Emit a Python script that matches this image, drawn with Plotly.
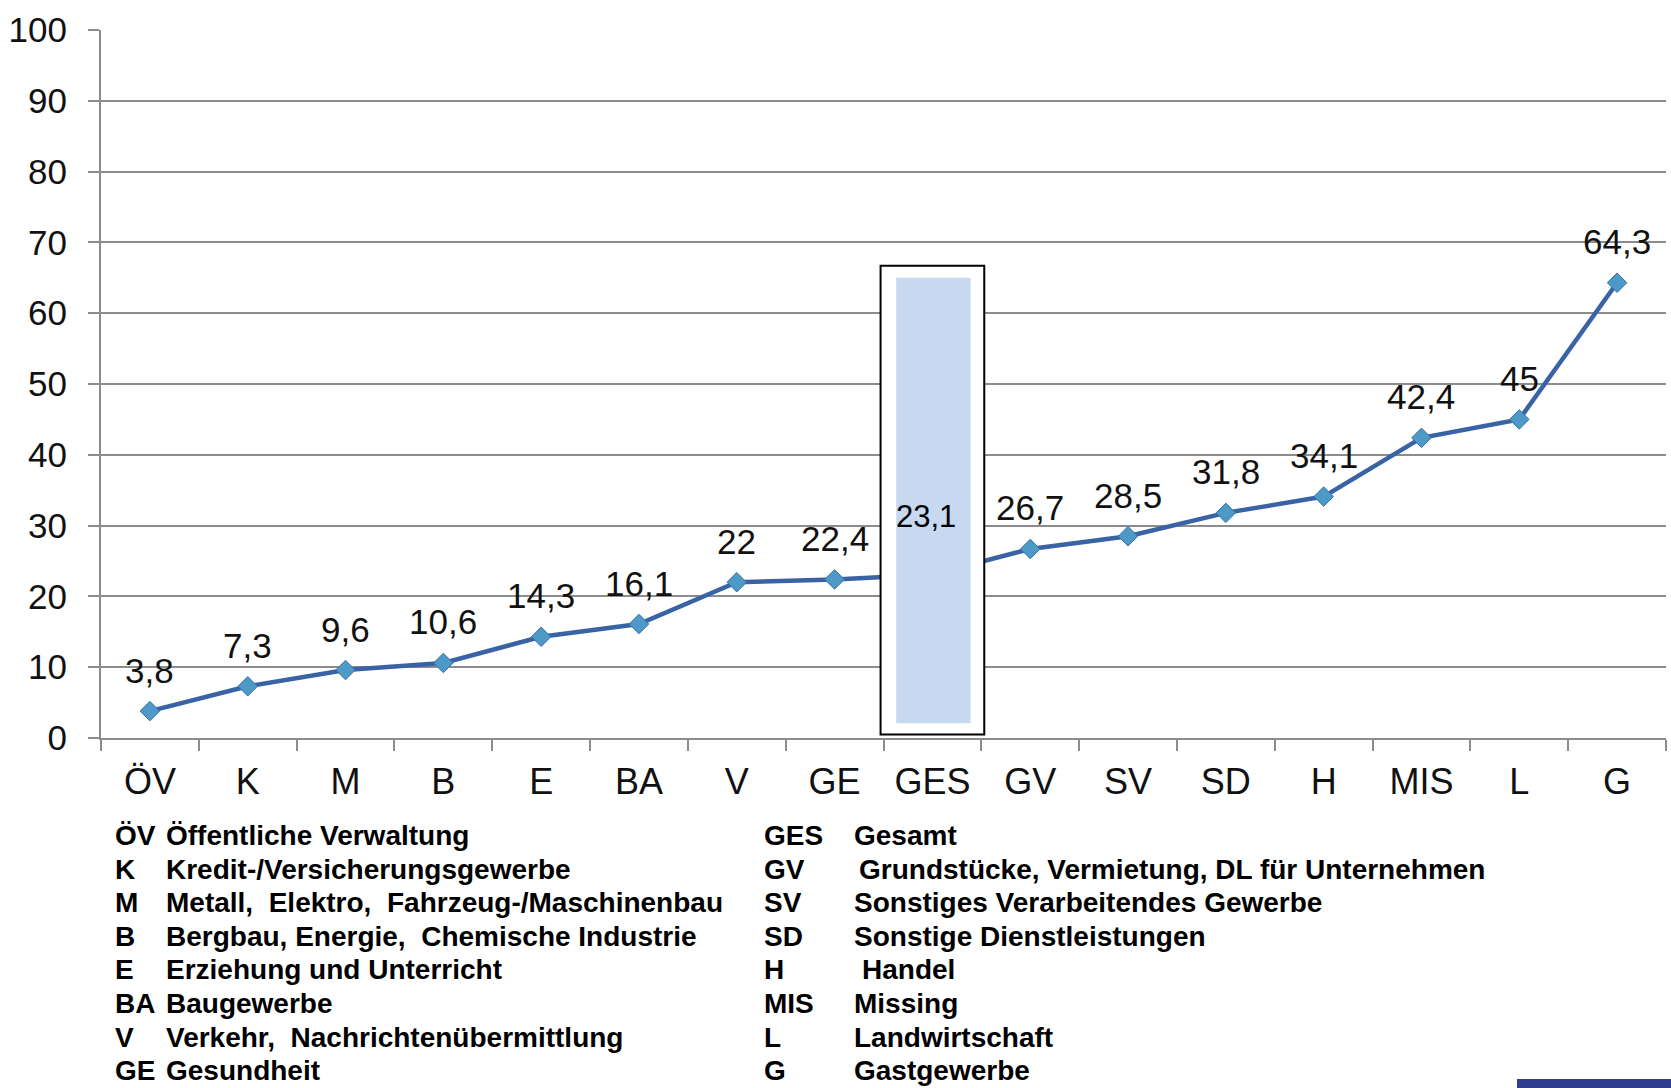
import plotly.graph_objects as go

# Sector codes and their values (percent)
categories = ["ÖV", "K", "M", "B", "E", "BA", "V", "GE", "GES",
              "GV", "SV", "SD", "H", "MIS", "L", "G"]
values = [3.8, 7.3, 9.6, 10.6, 14.3, 16.1, 22, 22.4, 23.1,
          26.7, 28.5, 31.8, 34.1, 42.4, 45, 64.3]
y_ticks = [0, 10, 20, 30, 40, 50, 60, 70, 80, 90, 100]

# Key to the sector codes (two columns)
key_left_codes = ["ÖV", "K", "M", "B", "E", "BA", "V", "GE"]
key_left_names = ["Öffentliche Verwaltung", "Kredit-/Versicherungsgewerbe",
                  "Metall,  Elektro,  Fahrzeug-/Maschinenbau",
                  "Bergbau, Energie,  Chemische Industrie",
                  "Erziehung und Unterricht", "Baugewerbe",
                  "Verkehr,  Nachrichtenübermittlung", "Gesundheit"]
key_right_codes = ["GES", "GV", "SV", "SD", "H", "MIS", "L", "G"]
key_right_names = ["Gesamt", "Grundstücke, Vermietung, DL für Unternehmen",
                   "Sonstiges Verarbeitendes Gewerbe", "Sonstige Dienstleistungen",
                   "Handel", "Missing", "Landwirtschaft", "Gastgewerbe"]

total_code = "GES"

W, H = 1671, 1088
ML, MR, MT, MB = 101, 5, 30, 350
PW, PH = W - ML - MR, H - MT - MB

FONT = "Liberation Sans, Arial, sans-serif"
GRID = "#8c8c8c"
LINE = "#3a63a5"


def px_x(px):
    return (px - ML) / PW


def px_y(py):
    return (H - MB - py) / PH


def fmt(v):
    return f"{v:g}".replace(".", ",")


fig = go.Figure()
fig.add_trace(go.Scatter(
    x=categories, y=values, mode="lines+markers",
    line=dict(color=LINE, width=4.5),
    marker=dict(symbol="diamond", size=15, color="#4d9ac9",
                line=dict(color="#3a6ea5", width=1)),
    hoverinfo="skip", showlegend=False,
))

annotations = []
for c, v in zip(categories, values):
    if c == total_code:
        annotations.append(dict(x=c, y=v, xref="x", yref="y", text=fmt(v),
                                showarrow=False, yshift=58, xshift=-6,
                                font=dict(family=FONT, size=31, color="#000")))
    else:
        annotations.append(dict(x=c, y=v, xref="x", yref="y", text=fmt(v),
                                showarrow=False, yshift=41,
                                font=dict(family=FONT, size=35, color="#111")))

row_y = [835.5 + i * 33.6 for i in range(8)]
key_font = dict(family=FONT, size=28, color="#000")
for i in range(8):
    annotations.append(dict(x=px_x(113), y=px_y(row_y[i]), xref="paper", yref="paper",
                            text="<b>%s</b>" % key_left_codes[i], showarrow=False,
                            xanchor="left", yanchor="middle", font=key_font))
    annotations.append(dict(x=px_x(164), y=px_y(row_y[i]), xref="paper", yref="paper",
                            text="<b>%s</b>" % key_left_names[i], showarrow=False,
                            xanchor="left", yanchor="middle", font=key_font))
    annotations.append(dict(x=px_x(762), y=px_y(row_y[i]), xref="paper", yref="paper",
                            text="<b>%s</b>" % key_right_codes[i], showarrow=False,
                            xanchor="left", yanchor="middle", font=key_font))
    shift = {1: 5, 4: 8}.get(i, 0)
    annotations.append(dict(x=px_x(852 + shift), y=px_y(row_y[i]), xref="paper", yref="paper",
                            text="<b>%s</b>" % key_right_names[i], showarrow=False,
                            xanchor="left", yanchor="middle", font=key_font))

gi = categories.index(total_code)
shapes = [
    # framed box highlighting the overall value
    dict(type="rect", xref="x", yref="y", x0=gi - 0.53, x1=gi + 0.53, y0=0.5, y1=66.7,
         fillcolor="white", line=dict(color="black", width=2), layer="above"),
    dict(type="rect", xref="x", yref="y", x0=gi - 0.37, x1=gi + 0.39, y0=2.1, y1=65.0,
         fillcolor="#c6d9f0", line=dict(width=0), layer="above"),
    # navy strip in the lower right corner
    dict(type="rect", xref="paper", yref="paper", x0=px_x(1517), x1=px_x(1675),
         y0=px_y(1079), y1=px_y(1092), fillcolor="#2e3d8d", line=dict(width=0),
         layer="above"),
]

fig.update_layout(
    width=W, height=H, autosize=False,
    margin=dict(l=ML, r=MR, t=MT, b=MB),
    paper_bgcolor="white", plot_bgcolor="white",
    font=dict(family=FONT, color="#111"),
    annotations=annotations, shapes=shapes,
    xaxis=dict(type="category", tickson="boundaries", ticks="outside", ticklen=11,
               tickwidth=2, tickcolor=GRID, showline=True, linecolor=GRID, linewidth=2,
               showgrid=False, tickfont=dict(family=FONT, size=36, color="#111"),
               ticklabelstandoff=11, range=[-0.5, len(categories) - 0.5],
               fixedrange=True),
    yaxis=dict(range=[0, 100], tickvals=y_ticks, ticks="outside", ticklen=11,
               tickwidth=2, tickcolor=GRID, showline=True, linecolor=GRID, linewidth=2,
               showgrid=True, gridcolor=GRID, gridwidth=2, zeroline=False,
               tickfont=dict(family=FONT, size=35, color="#111"),
               ticklabelstandoff=14, fixedrange=True),
)

fig.write_html("out.html")
